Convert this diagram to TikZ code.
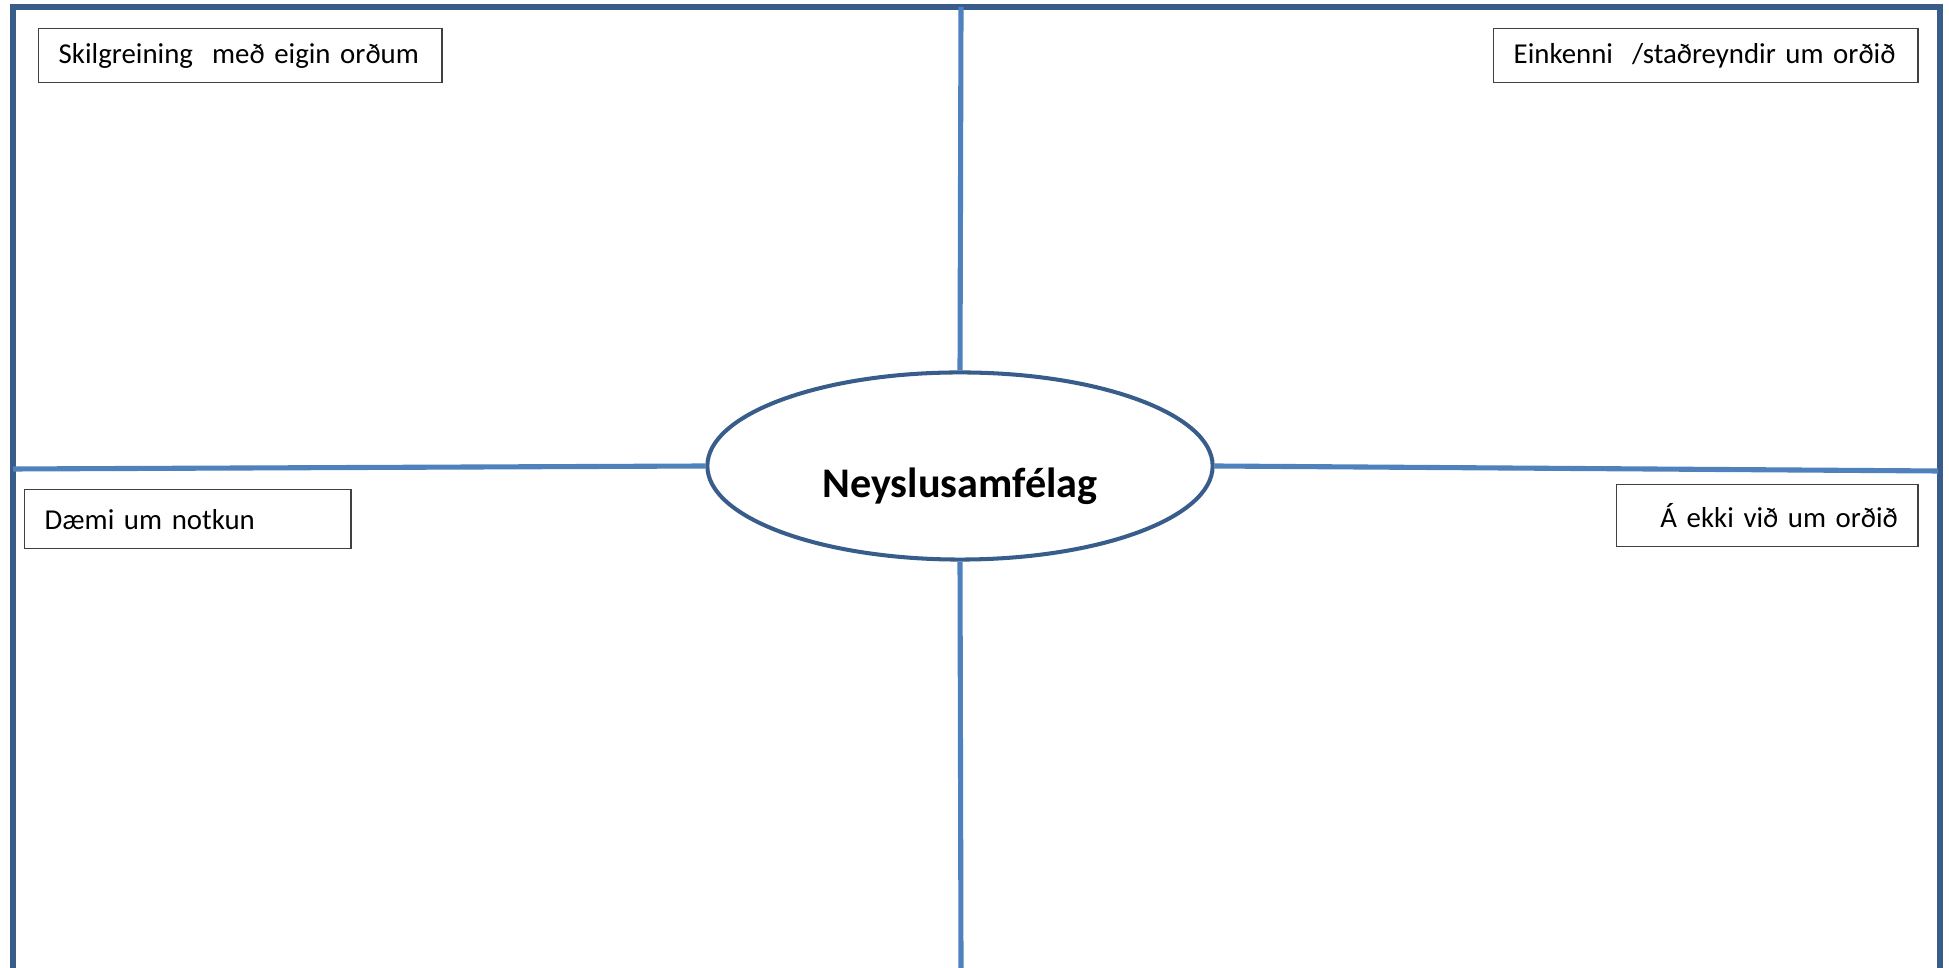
\documentclass[tikz,border=0pt]{standalone}
\usepackage{fontspec}
\setmainfont{Carlito}
\usepackage{tikz}
\usetikzlibrary{positioning,shapes.geometric}
\definecolor{rammi}{HTML}{385D8A}
\definecolor{skil}{HTML}{4F81BD}

\begin{document}
\begin{tikzpicture}[x=0.01cm,y=-0.01cm,font=\fontsize{8.2pt}{10pt}\selectfont,
  rammalina/.style={draw=rammi,line width=1.45pt},
  skillina/.style={draw=skil,line width=1.45pt},
  reitur/.style={draw=black!75,line width=0.4pt,anchor=north west,inner xsep=0.2cm,inner ysep=0pt,align=left},
  midja/.style={ellipse,draw=rammi,line width=1.15pt,fill=white,minimum width=5.05cm,minimum height=1.87cm,inner sep=0pt}]
\useasboundingbox (0,0) rectangle (1949,968);
% outer frame, open at the bottom
\coordinate (nv) at (13,968);
\coordinate (vt) at (13,7);
\coordinate (ht) at (1940,7);
\coordinate (nh) at (1940,968);
\draw[rammalina] (nv) -- (vt) -- (ht) -- (nh);
% centre word
\node[midja] (hugtak) at (960,466) {\raisebox{-0.31cm}[0pt][0pt]{\fontsize{12pt}{14pt}\selectfont\bfseries Neyslusamf\'elag}};
% dividers
\coordinate (efst) at (961,7);
\coordinate (nedst) at (961,968);
\coordinate (vinstri) at (13,469);
\coordinate (haegri) at (1938,471);
\draw[skillina] (efst) -- (hugtak.north);
\draw[skillina] (hugtak.south) -- (nedst);
\draw[skillina] (vinstri) -- (hugtak.west);
\draw[skillina] (hugtak.east) -- (haegri);
% the four labels
\node[reitur,minimum height=0.54cm,text width=3.63cm] (skilgr) at (38,28) {Skilgreining\ \ með eigin orðum};
\node[reitur,minimum height=0.54cm,text width=3.84cm] (einkenni) at (1493,28) {Einkenni\ \ /staðreyndir um orðið};
\node[reitur,minimum height=0.59cm,text width=2.86cm] (daemi) at (24,489) {Dæmi um notkun};
\node[reitur,minimum height=0.62cm,text width=2.61cm,align=right] (ekki) at (1616,484) {Á ekki við um orðið};
\end{tikzpicture}
\end{document}
